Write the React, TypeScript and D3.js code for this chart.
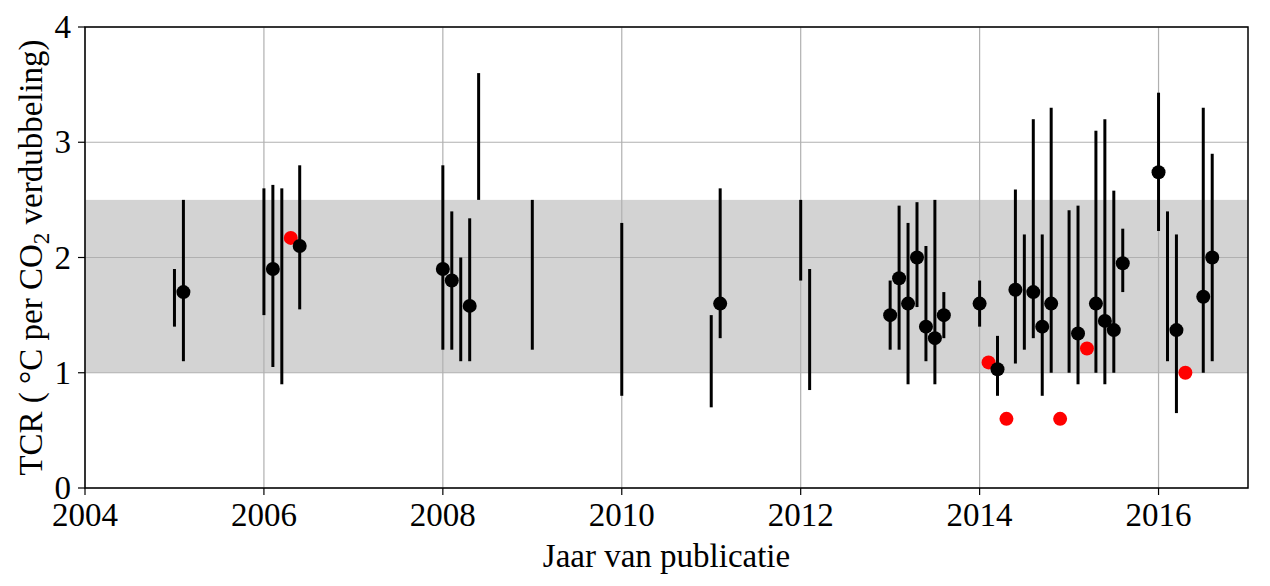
import React from 'react';
import * as d3 from 'd3';

// error bars: publication year (fractional), lower, upper, best estimate (null = no dot)
const barYears = [2005.0, 2005.1, 2006.0, 2006.1, 2006.2, 2006.4, 2008.0, 2008.1, 2008.2, 2008.3, 2008.4, 2009.0,
  2010.0, 2011.0, 2011.1, 2012.0, 2012.1, 2013.0, 2013.1, 2013.2, 2013.3, 2013.4, 2013.5, 2013.6,
  2014.0, 2014.2, 2014.4, 2014.5, 2014.6, 2014.7, 2014.8, 2015.0, 2015.1, 2015.3, 2015.4, 2015.5, 2015.6,
  2016.0, 2016.1, 2016.2, 2016.5, 2016.6];
const barLow = [1.4, 1.1, 1.5, 1.05, 0.9, 1.55, 1.2, 1.2, 1.1, 1.1, 2.5, 1.2,
  0.8, 0.7, 1.3, 1.8, 0.85, 1.2, 1.2, 0.9, 1.57, 1.1, 0.9, 1.3,
  1.4, 0.8, 1.08, 1.2, 1.3, 0.8, 1.0, 1.0, 0.9, 1.0, 0.9, 1.0, 1.7,
  2.23, 1.1, 0.65, 1.0, 1.1];
const barHigh = [1.9, 2.5, 2.6, 2.63, 2.6, 2.8, 2.8, 2.4, 2.0, 2.34, 3.6, 2.5,
  2.3, 1.5, 2.6, 2.5, 1.9, 1.8, 2.45, 2.3, 2.48, 2.1, 2.5, 1.7,
  1.8, 1.32, 2.59, 2.2, 3.2, 2.2, 3.3, 2.41, 2.45, 3.1, 3.2, 2.58, 2.25,
  3.43, 2.4, 2.2, 3.3, 2.9];
const barBest = [null, 1.7, null, 1.9, null, 2.1, 1.9, 1.8, null, 1.58, null, null,
  null, null, 1.6, null, null, 1.5, 1.82, 1.6, 2.0, 1.4, 1.3, 1.5,
  1.6, 1.03, 1.72, null, 1.7, 1.4, 1.6, null, 1.34, 1.6, 1.45, 1.37, 1.95,
  2.74, null, 1.37, 1.66, 2.0];

// single estimates shown in red
const redYears = [2006.3, 2014.1, 2014.3, 2014.9, 2015.2, 2016.3];
const redValues = [2.17, 1.09, 0.6, 0.6, 1.21, 1.0];

const xTicks = [2004, 2006, 2008, 2010, 2012, 2014, 2016];
const yTicks = [0, 1, 2, 3, 4];
const bandRange = [1, 2.5];

const W = 1270, H = 586;
const margin = { top: 27, right: 22, bottom: 98, left: 85 };
const font = '"Liberation Serif", "Times New Roman", serif';
const fs = 33;

export default function App() {
  const iw = W - margin.left - margin.right;
  const ih = H - margin.top - margin.bottom;
  const x = d3.scaleLinear().domain([2004, 2017]).range([0, iw]);
  const y = d3.scaleLinear().domain([0, 4]).range([ih, 0]);

  return (
    <svg width={W} height={H} style={{ position: 'absolute', left: 0, top: 0, background: '#fff' }}>
      <g transform={`translate(${margin.left},${margin.top})`}>
        <rect x={0} y={y(bandRange[1])} width={iw} height={y(bandRange[0]) - y(bandRange[1])} fill="#d3d3d3" />
        {xTicks.map(t => (
          <line key={'gx' + t} x1={x(t)} x2={x(t)} y1={0} y2={ih} stroke="#b0b0b0" strokeWidth={1.2} />
        ))}
        {yTicks.map(t => (
          <line key={'gy' + t} x1={0} x2={iw} y1={y(t)} y2={y(t)} stroke="#b0b0b0" strokeWidth={1.2} />
        ))}
        {barYears.map((yr, i) => (
          <line key={'b' + i} x1={x(yr)} x2={x(yr)} y1={y(barLow[i])} y2={y(barHigh[i])} stroke="#000" strokeWidth={3} />
        ))}
        {redYears.map((yr, i) => (
          <circle key={'r' + i} cx={x(yr)} cy={y(redValues[i])} r={7} fill="#ff0000" />
        ))}
        {barYears.map((yr, i) => barBest[i] == null ? null : (
          <circle key={'d' + i} cx={x(yr)} cy={y(barBest[i] as number)} r={7} fill="#000" />
        ))}
        <rect x={0} y={0} width={iw} height={ih} fill="none" stroke="#000" strokeWidth={1.5} />
        {xTicks.map(t => (
          <g key={'tx' + t} transform={`translate(${x(t)},${ih})`}>
            <line y1={0} y2={7} stroke="#000" strokeWidth={1.2} />
            <text y={38} textAnchor="middle" fontFamily={font} fontSize={fs} fill="#000">{t}</text>
          </g>
        ))}
        {yTicks.map(t => (
          <g key={'ty' + t} transform={`translate(0,${y(t)})`}>
            <line x1={0} x2={-7} stroke="#000" strokeWidth={1.2} />
            <text x={-14} dy="0.34em" textAnchor="end" fontFamily={font} fontSize={fs} fill="#000">{t}</text>
          </g>
        ))}
        <text x={iw / 2} y={ih + 79} textAnchor="middle" fontFamily={font} fontSize={fs} fill="#000">Jaar van publicatie</text>
        <text transform={`translate(-43,${ih / 2}) rotate(-90)`} textAnchor="middle" fontFamily={font} fontSize={fs} fill="#000">
          TCR ( °C per CO<tspan fontSize={23} dy={7}>2</tspan><tspan dy={-7}> verdubbeling)</tspan>
        </text>
      </g>
    </svg>
  );
}
